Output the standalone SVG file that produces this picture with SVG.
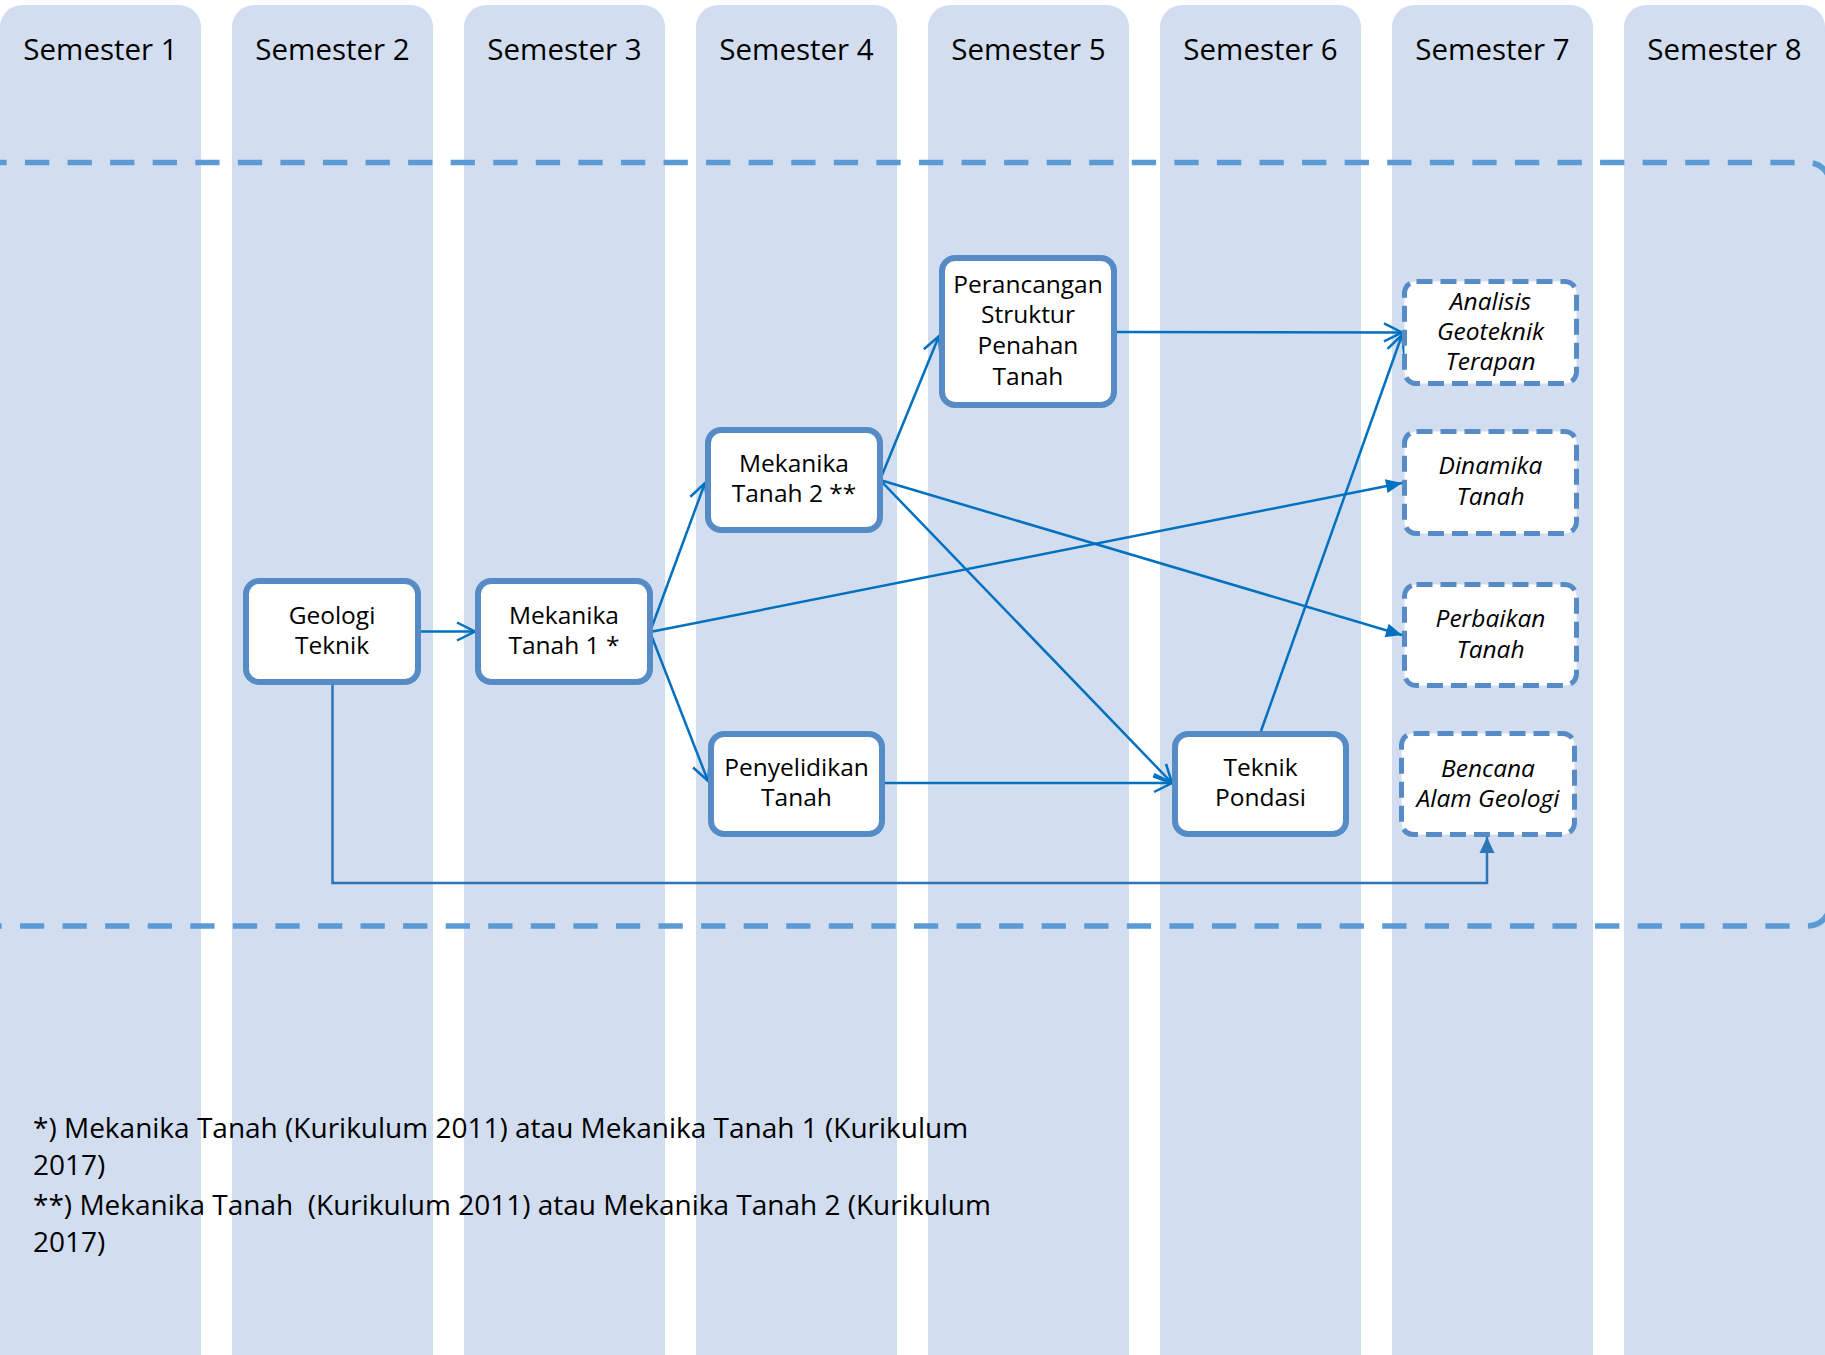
<svg xmlns="http://www.w3.org/2000/svg" width="1825" height="1355" viewBox="0 0 1825 1355">
<style>
.col{fill:#D2DEEF}
.sem{font-family:"Open Sans","Liberation Sans",sans-serif;font-size:29.5px;fill:#000;text-anchor:middle}
.box{fill:#fff;stroke:#568BC6;stroke-width:6}
.dbox{fill:#fff;stroke:#568BC6;stroke-width:5;stroke-dasharray:16 8}
.t{font-family:"Open Sans","Liberation Sans",sans-serif;font-size:24.5px;fill:#000;text-anchor:middle}
.ti{font-family:"Open Sans","Liberation Sans",sans-serif;font-size:24.5px;font-style:italic;fill:#000;text-anchor:middle}
.frame{fill:none;stroke:#5B9BD5;stroke-width:5.5;stroke-dasharray:24.3 18.27}
.c{fill:none;stroke:#0070C0;stroke-width:2.5}
.c2{fill:none;stroke:#2E75B6;stroke-width:2.5}
.note{font-family:"Open Sans","Liberation Sans",sans-serif;font-size:28px;fill:#000;white-space:pre}
</style>
<defs>
<marker id="open" markerUnits="userSpaceOnUse" markerWidth="40" markerHeight="40" refX="0" refY="0" orient="auto" overflow="visible" viewBox="-20 -20 40 40">
<path d="M-18,-9 L0,0 L-18,9" fill="none" stroke="#0070C0" stroke-width="2.5"/>
</marker>
<marker id="fill" markerUnits="userSpaceOnUse" markerWidth="40" markerHeight="40" refX="0" refY="0" orient="auto" overflow="visible" viewBox="-20 -20 40 40">
<path d="M-16,-7 L0,0 L-16,7 Z" fill="#0070C0"/>
</marker>
<marker id="fill2" markerUnits="userSpaceOnUse" markerWidth="40" markerHeight="40" refX="0" refY="0" orient="auto" overflow="visible" viewBox="-20 -20 40 40">
<path d="M-16,-7.5 L0,0 L-16,7.5 Z" fill="#2E75B6"/>
</marker>
</defs>

<g id="columns">
<rect class="col" x="0" y="5" width="201" height="1400" rx="22"/>
<rect class="col" x="232" y="5" width="201" height="1400" rx="22"/>
<rect class="col" x="464" y="5" width="201" height="1400" rx="22"/>
<rect class="col" x="696" y="5" width="201" height="1400" rx="22"/>
<rect class="col" x="928" y="5" width="201" height="1400" rx="22"/>
<rect class="col" x="1160" y="5" width="201" height="1400" rx="22"/>
<rect class="col" x="1392" y="5" width="201" height="1400" rx="22"/>
<rect class="col" x="1624" y="5" width="201" height="1400" rx="22"/>
<text class="sem" x="100.5" y="60">Semester 1</text>
<text class="sem" x="332.5" y="60">Semester 2</text>
<text class="sem" x="564.5" y="60">Semester 3</text>
<text class="sem" x="796.5" y="60">Semester 4</text>
<text class="sem" x="1028.5" y="60">Semester 5</text>
<text class="sem" x="1260.5" y="60">Semester 6</text>
<text class="sem" x="1492.5" y="60">Semester 7</text>
<text class="sem" x="1724.5" y="60">Semester 8</text>
</g>

<g id="frame">
<path class="frame" d="M-17.6,162.5 H1808 A22,22 0 0 1 1830,184.5 V544"/>
<path class="frame" d="M-22.6,926 H1808 A22,22 0 0 0 1830,904 V544"/>
</g>

<g id="connectors">
<path class="c" d="M421,631.5 L475,631.5" marker-end="url(#open)"/>
<path class="c" d="M650,632 L705,483" marker-end="url(#open)"/>
<path class="c" d="M650,632 L708,781" marker-end="url(#open)"/>
<path class="c" d="M650,632 L1402,483" marker-end="url(#fill)"/>
<path class="c" d="M880,480 L939,336" marker-end="url(#open)"/>
<path class="c" d="M880,480 L1402,635" marker-end="url(#fill)"/>
<path class="c" d="M880,480 L1172,783" marker-end="url(#open)"/>
<path class="c" d="M1114,332 L1402,332.5" marker-end="url(#open)"/>
<path class="c" d="M1261,731 L1402,335" marker-end="url(#open)"/>
<path class="c" d="M882,783 L1172,783" marker-end="url(#open)"/>
<path class="c2" d="M332.5,685 V883 H1487 V837" marker-end="url(#fill2)"/>
</g>

<g id="geologi-teknik">
<rect class="box" x="246" y="581" width="172" height="101" rx="13"/>
<text class="t" x="332" y="624">Geologi</text>
<text class="t" x="332" y="654">Teknik</text>
</g>
<g id="mekanika-tanah-1">
<rect class="box" x="478" y="581" width="172" height="101" rx="13"/>
<text class="t" x="564" y="624">Mekanika</text>
<text class="t" x="564" y="654">Tanah 1 *</text>
</g>
<g id="mekanika-tanah-2">
<rect class="box" x="708" y="430" width="172" height="100" rx="13"/>
<text class="t" x="794" y="472">Mekanika</text>
<text class="t" x="794" y="502">Tanah 2 **</text>
</g>
<g id="penyelidikan-tanah">
<rect class="box" x="711" y="734" width="171" height="100" rx="13"/>
<text class="t" x="796.5" y="776">Penyelidikan</text>
<text class="t" x="796.5" y="806">Tanah</text>
</g>
<g id="perancangan">
<rect class="box" x="942" y="258" width="172" height="147" rx="13"/>
<text class="t" x="1028" y="293">Perancangan</text>
<text class="t" x="1028" y="323">Struktur</text>
<text class="t" x="1028" y="354">Penahan</text>
<text class="t" x="1028" y="385">Tanah</text>
</g>
<g id="teknik-pondasi">
<rect class="box" x="1175" y="734" width="171" height="100" rx="13"/>
<text class="t" x="1260.5" y="776">Teknik</text>
<text class="t" x="1260.5" y="806">Pondasi</text>
</g>
<g id="analisis">
<rect class="dbox" x="1404.5" y="281.5" width="172" height="102" rx="12"/>
<text class="ti" x="1490.5" y="310">Analisis</text>
<text class="ti" x="1490.5" y="340">Geoteknik</text>
<text class="ti" x="1490.5" y="370">Terapan</text>
</g>
<g id="dinamika">
<rect class="dbox" x="1404.5" y="431.5" width="172" height="102" rx="12"/>
<text class="ti" x="1490.5" y="474">Dinamika</text>
<text class="ti" x="1490.5" y="505">Tanah</text>
</g>
<g id="perbaikan">
<rect class="dbox" x="1404.5" y="584.5" width="172" height="101" rx="12"/>
<text class="ti" x="1490.5" y="627">Perbaikan</text>
<text class="ti" x="1490.5" y="658">Tanah</text>
</g>
<g id="bencana">
<rect class="dbox" x="1401.5" y="733.5" width="173" height="101" rx="12"/>
<text class="ti" x="1488" y="777">Bencana</text>
<text class="ti" x="1488" y="807">Alam Geologi</text>
</g>

<g id="notes">
<text class="note" x="33" y="1138">*) Mekanika Tanah (Kurikulum 2011) atau Mekanika Tanah 1 (Kurikulum</text>
<text class="note" x="33" y="1175">2017)</text>
<text class="note" x="33" y="1215" xml:space="preserve">**) Mekanika Tanah  (Kurikulum 2011) atau Mekanika Tanah 2 (Kurikulum</text>
<text class="note" x="33" y="1252">2017)</text>
</g>
</svg>
